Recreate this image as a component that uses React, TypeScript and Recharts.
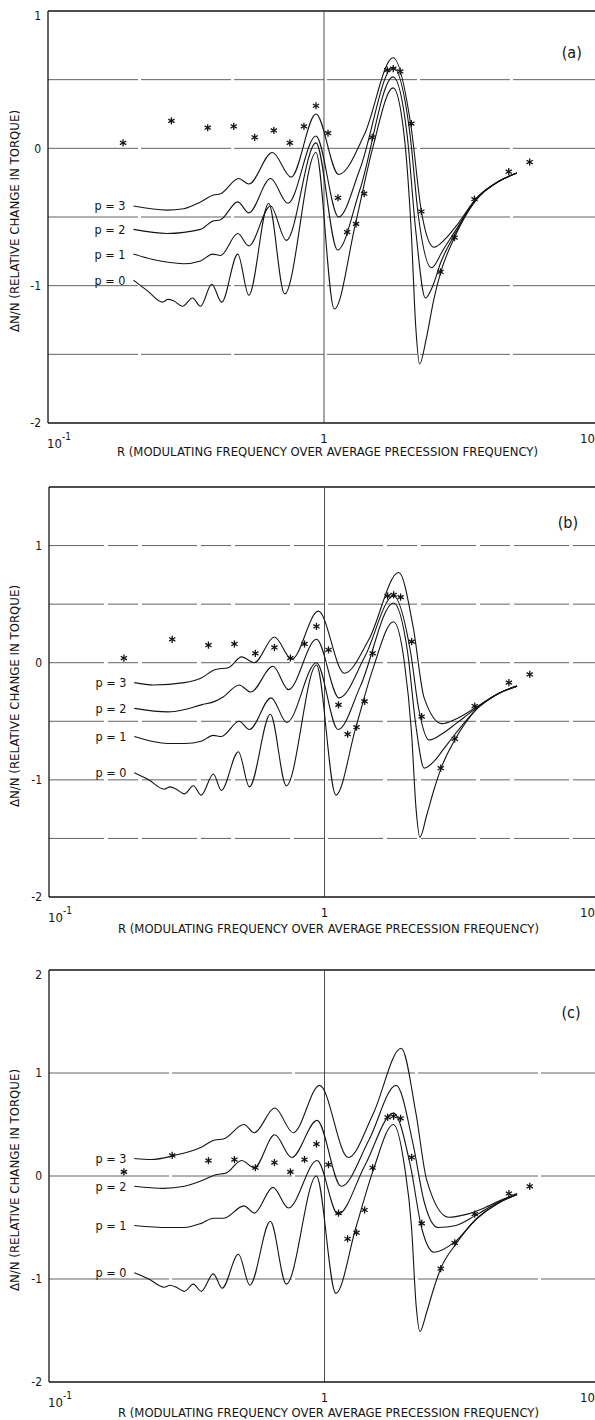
import React from 'react';
import { ComposedChart, Line, Scatter, XAxis, YAxis, ReferenceLine, ReferenceDot } from 'recharts';

// measured points, shared by all three panels (R, ΔN/N)
const STAR_R = [0.187, 0.28, 0.379, 0.471, 0.561, 0.658, 0.752, 0.846, 0.935, 1.034, 1.124, 1.213, 1.307, 1.398, 1.495, 1.695, 1.782, 1.889, 2.072, 2.253, 2.642, 2.97, 3.51, 4.67, 5.56];
const STAR_V = [0.04, 0.2, 0.15, 0.16, 0.08, 0.13, 0.04, 0.16, 0.31, 0.11, -0.36, -0.61, -0.55, -0.33, 0.08, 0.57, 0.58, 0.56, 0.18, -0.46, -0.9, -0.65, -0.37, -0.17, -0.1];

const X_TICKS = [0.1, 1, 10];

// panel (a) curves, [R, value]
const A_P0 = [[0.204, -0.96], [0.23, -1.04], [0.26, -1.12], [0.272, -1.1], [0.285, -1.11], [0.307, -1.15], [0.334, -1.09], [0.357, -1.15], [0.392, -0.99], [0.426, -1.12], [0.487, -0.77], [0.534, -1.07], [0.63, -0.4], [0.72, -1.06], [0.935, -0.03], [1.09, -1.17], [1.3, -0.55], [1.5, 0.0], [1.78, 0.44], [1.95, 0.1], [2.07, -0.6], [2.15, -1.3], [2.22, -1.57], [2.35, -1.38], [2.5, -1.1], [2.65, -0.9], [2.97, -0.65], [3.55, -0.38], [4.3, -0.24], [5.0, -0.18]];
const A_P1 = [[0.204, -0.77], [0.24, -0.81], [0.31, -0.84], [0.357, -0.82], [0.395, -0.77], [0.422, -0.78], [0.487, -0.62], [0.534, -0.71], [0.64, -0.42], [0.73, -0.67], [0.935, 0.04], [1.12, -0.74], [1.35, -0.3], [1.78, 0.52], [2.0, 0.1], [2.15, -0.6], [2.33, -1.09], [2.48, -1.0], [2.65, -0.83], [2.97, -0.63], [3.55, -0.37], [4.3, -0.24], [5.0, -0.18]];
const A_P2 = [[0.204, -0.59], [0.27, -0.62], [0.357, -0.59], [0.395, -0.53], [0.422, -0.52], [0.487, -0.39], [0.534, -0.47], [0.64, -0.22], [0.74, -0.4], [0.935, 0.09], [1.13, -0.5], [1.35, -0.15], [1.78, 0.59], [2.05, 0.1], [2.2, -0.5], [2.45, -0.87], [2.7, -0.74], [2.97, -0.61], [3.55, -0.37], [4.3, -0.24], [5.0, -0.18]];
const A_P3 = [[0.204, -0.42], [0.27, -0.45], [0.31, -0.44], [0.357, -0.39], [0.398, -0.34], [0.422, -0.33], [0.491, -0.22], [0.534, -0.26], [0.65, -0.03], [0.76, -0.21], [0.935, 0.25], [1.13, -0.19], [1.4, 0.1], [1.78, 0.66], [2.07, 0.15], [2.25, -0.45], [2.5, -0.72], [2.75, -0.66], [3.0, -0.57], [3.55, -0.37], [4.3, -0.24], [5.0, -0.18]];

// panel (b)
const B_P0 = [[0.204, -0.94], [0.23, -1.0], [0.262, -1.08], [0.275, -1.06], [0.29, -1.08], [0.31, -1.12], [0.334, -1.05], [0.357, -1.13], [0.395, -0.95], [0.422, -1.09], [0.487, -0.76], [0.534, -1.06], [0.636, -0.44], [0.727, -1.05], [0.935, -0.02], [1.1, -1.13], [1.3, -0.55], [1.5, -0.05], [1.78, 0.35], [1.95, 0.0], [2.07, -0.6], [2.15, -1.25], [2.22, -1.49], [2.35, -1.3], [2.5, -1.08], [2.65, -0.9], [2.97, -0.66], [3.55, -0.4], [4.3, -0.26], [5.0, -0.2]];
const B_P1 = [[0.204, -0.63], [0.27, -0.69], [0.31, -0.69], [0.357, -0.67], [0.395, -0.62], [0.422, -0.63], [0.49, -0.5], [0.534, -0.57], [0.64, -0.3], [0.73, -0.51], [0.935, 0.0], [1.12, -0.57], [1.35, -0.2], [1.78, 0.51], [2.0, 0.1], [2.15, -0.55], [2.3, -0.9], [2.5, -0.84], [2.7, -0.74], [3.0, -0.6], [3.55, -0.4], [4.3, -0.26], [5.0, -0.2]];
const B_P2 = [[0.204, -0.39], [0.27, -0.42], [0.31, -0.4], [0.357, -0.36], [0.4, -0.33], [0.43, -0.29], [0.49, -0.19], [0.54, -0.25], [0.65, -0.03], [0.74, -0.23], [0.935, 0.2], [1.13, -0.3], [1.4, 0.05], [1.78, 0.57], [2.05, 0.1], [2.2, -0.4], [2.4, -0.66], [2.7, -0.6], [3.0, -0.52], [3.55, -0.39], [4.3, -0.26], [5.0, -0.2]];
const B_P3 = [[0.204, -0.17], [0.24, -0.19], [0.31, -0.17], [0.357, -0.13], [0.4, -0.06], [0.45, -0.04], [0.5, 0.05], [0.556, 0.0], [0.658, 0.22], [0.76, 0.03], [0.95, 0.44], [1.18, -0.09], [1.45, 0.2], [1.86, 0.77], [2.1, 0.3], [2.3, -0.3], [2.67, -0.52], [3.0, -0.48], [3.55, -0.38], [4.3, -0.26], [5.0, -0.2]];

// panel (c)
const C_P0 = [[0.204, -0.94], [0.23, -1.0], [0.262, -1.08], [0.275, -1.06], [0.29, -1.08], [0.31, -1.12], [0.334, -1.05], [0.357, -1.12], [0.395, -0.95], [0.425, -1.09], [0.487, -0.76], [0.536, -1.06], [0.636, -0.44], [0.727, -1.05], [0.935, 0.0], [1.1, -1.14], [1.3, -0.5], [1.5, 0.05], [1.78, 0.5], [1.95, 0.1], [2.07, -0.5], [2.15, -1.25], [2.22, -1.51], [2.35, -1.32], [2.5, -1.08], [2.64, -0.9], [3.0, -0.66], [3.55, -0.42], [4.3, -0.26], [5.0, -0.18]];
const C_P1 = [[0.204, -0.48], [0.27, -0.5], [0.31, -0.5], [0.357, -0.46], [0.395, -0.41], [0.43, -0.41], [0.51, -0.29], [0.556, -0.36], [0.65, -0.11], [0.74, -0.31], [0.94, 0.15], [1.12, -0.37], [1.4, 0.1], [1.78, 0.61], [2.05, 0.1], [2.25, -0.5], [2.5, -0.74], [2.97, -0.64], [3.55, -0.42], [4.3, -0.26], [5.0, -0.18]];
const C_P2 = [[0.204, -0.1], [0.26, -0.12], [0.31, -0.1], [0.37, -0.03], [0.4, 0.01], [0.44, 0.03], [0.5, 0.15], [0.556, 0.08], [0.66, 0.4], [0.76, 0.18], [0.94, 0.54], [1.15, -0.1], [1.45, 0.35], [1.82, 0.88], [2.1, 0.3], [2.3, -0.25], [2.58, -0.5], [3.0, -0.48], [3.55, -0.38], [4.3, -0.25], [5.0, -0.18]];
const C_P3 = [[0.204, 0.17], [0.235, 0.16], [0.285, 0.2], [0.357, 0.28], [0.4, 0.35], [0.43, 0.36], [0.51, 0.5], [0.556, 0.42], [0.66, 0.66], [0.77, 0.42], [0.96, 0.88], [1.22, 0.18], [1.5, 0.6], [1.9, 1.24], [2.15, 0.6], [2.35, -0.04], [2.82, -0.4], [3.3, -0.37], [3.8, -0.31], [4.4, -0.23], [5.0, -0.17]];

const INK = '#141414';
const FONT = '"DejaVu Sans Condensed", "Liberation Sans Narrow", "DejaVu Sans", sans-serif';
const X_TITLE = 'R (MODULATING FREQUENCY OVER AVERAGE PRECESSION FREQUENCY)';
const Y_TITLE = 'ΔN/N (RELATIVE CHANGE IN TORQUE)';

const toPts = (arr: number[][]) => arr.map(([r, v]) => ({ r, v }));
const stars = STAR_R.map((r, i) => ({ r, v: STAR_V[i] }));

const Asterisk = (props: any) => {
  const { cx, cy } = props;
  if (cx == null || cy == null) return null;
  const s = 3.6;
  const a = s * Math.cos(Math.PI / 6);
  const b = s * Math.sin(Math.PI / 6);
  return (
    <g stroke={INK} strokeWidth={1.3}>
      <line x1={cx} y1={cy - s} x2={cx} y2={cy + s} />
      <line x1={cx - a} y1={cy - b} x2={cx + a} y2={cy + b} />
      <line x1={cx - a} y1={cy + b} x2={cx + a} y2={cy - b} />
    </g>
  );
};

const XTick = (props: any) => {
  const { x, y, payload } = props;
  if (payload.value === 0.1) {
    return (
      <text x={x - 1} y={y + 25} fill={INK} fontSize={13} fontFamily={FONT}>
        10<tspan dy={-8} fontSize={10}>-1</tspan>
      </text>
    );
  }
  // the right end of the axis sits just past the page edge
  const end = payload.value === 10;
  return (
    <text x={end ? 595 : x} y={y + 20} fill={INK} fontSize={13} fontFamily={FONT} textAnchor={end ? 'end' : 'middle'}>
      {payload.value}
    </text>
  );
};

const makeYTick = (top: number) => (props: any) => {
  const { x, y, payload } = props;
  const dy = payload.value === top ? 5 : 0;
  return (
    <text x={x} y={y + dy} dy="0.36em" fill={INK} fontSize={12} fontFamily={FONT} textAnchor="end">
      {payload.value}
    </text>
  );
};

type PanelProps = {
  top: number;
  h: number;
  mt: number;
  xh: number;
  yw: number;
  yDomain: [number, number];
  yTicks: number[];
  grid: number[];
  dash: string;
  curves: number[][][];
  tag: string;
  tagAt: [number, number];
  titleDy: number;
};

function Panel({ top, h, mt, xh, yw, yDomain, yTicks, grid, dash, curves, tag, tagAt, titleDy }: PanelProps) {
  const YTick = makeYTick(yDomain[1]);
  return (
    <div style={{ position: 'absolute', top, left: 0 }}>
      <ComposedChart width={600} height={h} margin={{ top: mt, right: 0, bottom: 0, left: 0 }} style={{ fontFamily: FONT }}>
        <XAxis
          type="number"
          dataKey="r"
          scale="log"
          domain={[0.1, 10]}
          ticks={X_TICKS}
          interval={0}
          allowDataOverflow
          height={xh}
          tickSize={0}
          tickMargin={0}
          tickLine={false}
          tick={<XTick />}
          axisLine={{ stroke: INK, strokeWidth: 1.3 }}
          label={{
            content: (p: any) => {
              const vb = p.viewBox;
              return (
                <text x={vb.x + 69} y={vb.y + titleDy} fill={INK} fontSize={12.5} fontFamily={FONT} textLength={421} lengthAdjust="spacingAndGlyphs">
                  {X_TITLE}
                </text>
              );
            },
          }}
        />
        <YAxis
          type="number"
          dataKey="v"
          domain={yDomain}
          ticks={yTicks}
          interval={0}
          allowDataOverflow
          width={yw}
          tickSize={0}
          tickMargin={7}
          tickLine={false}
          tick={<YTick />}
          axisLine={{ stroke: INK, strokeWidth: 1.3 }}
          label={{
            content: (p: any) => {
              const vb = p.viewBox;
              const cy = vb.y + vb.height / 2 + 4;
              return (
                <text x={15} y={cy} transform={`rotate(-90, 15, ${cy})`} fill={INK} fontSize={11.5} fontFamily={FONT} textAnchor="middle" dominantBaseline="central" textLength={222} lengthAdjust="spacingAndGlyphs">
                  {Y_TITLE}
                </text>
              );
            },
          }}
        />
        <ReferenceLine y={yDomain[1]} stroke={INK} strokeWidth={1.3} />
        {grid.map((g) => (
          <ReferenceLine key={g} y={g} stroke="#3a3a3a" strokeWidth={0.8} strokeDasharray={dash} />
        ))}
        <ReferenceLine x={1} stroke="#3a3a3a" strokeWidth={0.9} />
        {curves.map((c, i) => (
          <Line key={i} data={toPts(c)} dataKey="v" type="monotone" stroke={INK} strokeWidth={1.1} dot={false} isAnimationActive={false} />
        ))}
        <Scatter data={stars} dataKey="v" shape={(p: any) => <Asterisk {...p} />} isAnimationActive={false} />
        {curves.map((c, i) => (
          <ReferenceDot
            key={`lab${i}`}
            x={c[0][0]}
            y={c[0][1]}
            r={0}
            fill="none"
            stroke="none"
            label={{ value: `p = ${i}`, position: 'left', offset: 8, fontSize: 12.5, fill: INK, fontFamily: FONT }}
          />
        ))}
        <ReferenceDot x={tagAt[0]} y={tagAt[1]} r={0} fill="none" stroke="none" label={{ value: tag, position: 'center', fontSize: 16, fill: INK, fontFamily: FONT }} />
      </ComposedChart>
    </div>
  );
}

export default function App() {
  return (
    <div style={{ position: 'absolute', left: 0, top: 0, width: 595, height: 1420, overflow: 'hidden', background: '#fff' }}>
      <Panel
        top={0}
        h={470}
        mt={11}
        xh={47}
        yw={48}
        yDomain={[-2, 1]}
        yTicks={[-2, -1, 0, 1]}
        grid={[0.5, 0, -0.5, -1, -1.5]}
        dash="90 3"
        curves={[A_P0, A_P1, A_P2, A_P3]}
        tag="(a)"
        tagAt={[7.9, 0.7]}
        titleDy={33}
      />
      <Panel
        top={470}
        h={470}
        mt={17}
        xh={43}
        yw={49}
        yDomain={[-2, 1.5]}
        yTicks={[-2, -1, 0, 1]}
        grid={[1, 0.5, 0, -0.5, -1, -1.5]}
        dash="55 4 30 4"
        curves={[B_P0, B_P1, B_P2, B_P3]}
        tag="(b)"
        tagAt={[7.65, 1.2]}
        titleDy={36}
      />
      <Panel
        top={940}
        h={480}
        mt={30}
        xh={38}
        yw={49}
        yDomain={[-2, 2]}
        yTicks={[-2, -1, 0, 1, 2]}
        grid={[1, 0, -1]}
        dash="120 3"
        curves={[C_P0, C_P1, C_P2, C_P3]}
        tag="(c)"
        tagAt={[7.85, 1.59]}
        titleDy={35}
      />
    </div>
  );
}
